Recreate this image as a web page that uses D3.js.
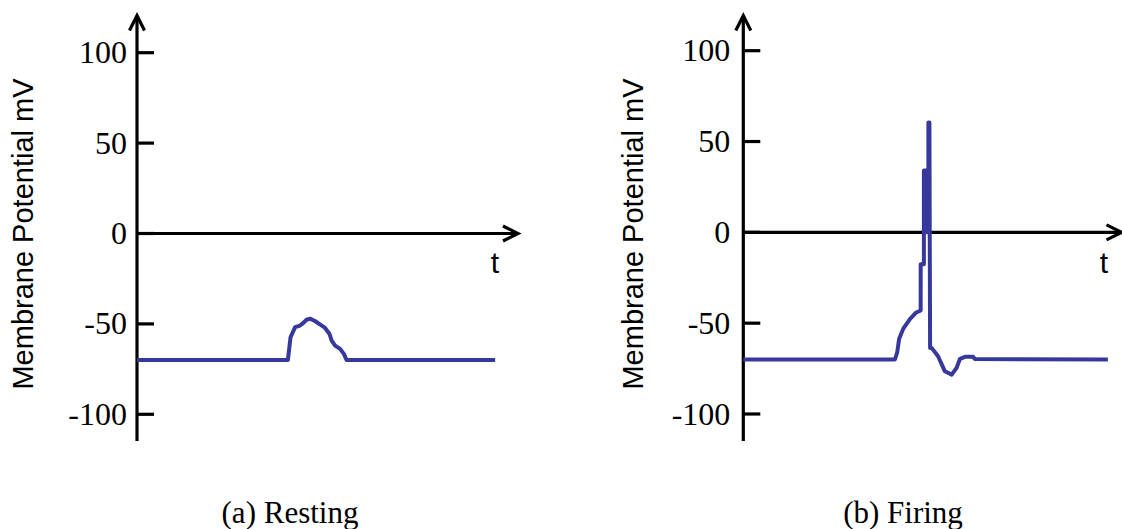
<!DOCTYPE html>
<html>
<head>
<meta charset="utf-8">
<script src="https://cdn.jsdelivr.net/npm/d3@7"></script>
<style>
  body { margin: 0; background: #fff; }
  svg { display: block; }
</style>
</head>
<body>
<svg id="chart" width="1122" height="529"></svg>
<script>
// y ticks (mV)
var yTicks = [100, 50, 0, -50, -100];

// (a) resting: time (arbitrary units, 0-100 along the t axis), potential mV
var restT = [0, 39.6, 40.3, 41.5, 42.8, 43.6, 44.5, 45.4, 46.7, 48.0, 49.3, 50.5, 51.1, 52.0, 53.3, 54.3, 55.0, 94.0];
var restV = [-70, -70, -57.4, -51.8, -50.9, -49.6, -47.7, -47.1, -48.4, -50.3, -52.1, -55.4, -59.2, -62, -63.8, -66.6, -70, -70];

// (b) firing
var fireT = [0, 40.1, 40.7, 41.2, 42.3, 44.1, 45.6, 46.9, 46.9, 47.75, 47.75, 48.55, 48.55, 48.94, 48.94, 49.21, 49.39, 49.8, 51.5, 53.3, 55.1, 56.4, 57.3, 58.6, 60.8, 61.2, 96.4];
var fireV = [-70, -70, -66, -58.7, -53, -47.6, -44.3, -43, -17.5, -17.5, 34, 34, 0, 0, 60.5, 60.5, -63.6, -63.6, -68.2, -76.5, -78.3, -74.6, -69.6, -68.5, -68.5, -69.7, -70];

var yTitle = 'Membrane Potential mV';
var captions = ['(a) Resting', '(b) Firing'];

var panels = [
    { t: restT, v: restV, ax: 137, axEnd: 518, yTop: 52.7, yBot: 414.3, gap: 10, titleX: 33, tX: 495, capX: 290 },
    { t: fireT, v: fireV, ax: 743.3, axEnd: 1121.5, yTop: 50.7, yBot: 414, gap: 13, titleX: 643, tX: 1104, capX: 903 }
];

var svg = d3.select('#chart');
var lineColor = '#36399b';

function arrow(g, x, y, dir) {
    // open chevron arrow head
    var L = 15, W = 7.5, pts;
    if (dir == 'up') pts = [[x - W, y + L], [x, y], [x + W, y + L]];
    else pts = [[x - L, y - W], [x, y], [x - L, y + W]];
    g.append('path')
        .attr('d', d3.line()(pts))
        .attr('fill', 'none')
        .attr('stroke', '#000')
        .attr('stroke-width', 3.2)
        .attr('stroke-linejoin', 'miter');
}

panels.forEach(function(p, i) {
    var x = d3.scaleLinear().domain([0, 100]).range([p.ax, p.axEnd]);
    var y = d3.scaleLinear().domain([-100, 100]).range([p.yBot, p.yTop]);
    var g = svg.append('g');

    // y axis line
    g.append('line')
        .attr('x1', p.ax).attr('x2', p.ax)
        .attr('y1', 441).attr('y2', 16)
        .attr('stroke', '#000').attr('stroke-width', 3.2);
    arrow(g, p.ax, 15.5, 'up');

    // ticks + labels
    var tk = g.selectAll('.tk').data(yTicks).enter().append('g').attr('class', 'tk');
    tk.append('line')
        .attr('x1', p.ax).attr('x2', p.ax + 17)
        .attr('y1', function(d) { return y(d); })
        .attr('y2', function(d) { return y(d); })
        .attr('stroke', '#000').attr('stroke-width', 3.2);
    tk.append('text')
        .attr('x', p.ax - p.gap)
        .attr('y', function(d) { return y(d); })
        .attr('dy', '0.33em')
        .attr('text-anchor', 'end')
        .attr('font-family', '"Liberation Serif", "Times New Roman", serif')
        .attr('font-size', 32)
        .text(function(d) { return d; });

    // t axis at 0 mV
    g.append('line')
        .attr('x1', p.ax).attr('x2', x(100) - 1)
        .attr('y1', y(0)).attr('y2', y(0))
        .attr('stroke', '#000').attr('stroke-width', 3.2);
    arrow(g, x(100), y(0), 'right');
    g.append('text')
        .attr('x', p.tX).attr('y', 273)
        .attr('text-anchor', 'middle')
        .attr('font-family', '"Liberation Sans", Arial, sans-serif')
        .attr('font-size', 30)
        .text('t');

    // axis title
    g.append('text')
        .attr('transform', 'translate(' + p.titleX + ',234) rotate(-90)')
        .attr('text-anchor', 'middle')
        .attr('font-family', '"Liberation Sans", Arial, sans-serif')
        .attr('font-size', 29)
        .text(yTitle);

    // trace
    var pts = p.t.map(function(d, k) { return [d, p.v[k]]; });
    var line = d3.line()
        .x(function(d) { return x(d[0]); })
        .y(function(d) { return y(d[1]); });
    g.append('path')
        .attr('d', line(pts))
        .attr('fill', 'none')
        .attr('stroke', lineColor)
        .attr('stroke-width', 4)
        .attr('stroke-linejoin', 'round');

    // caption
    g.append('text')
        .attr('x', p.capX).attr('y', 523)
        .attr('text-anchor', 'middle')
        .attr('font-family', '"Liberation Serif", "Times New Roman", serif')
        .attr('font-size', 31)
        .text(captions[i]);
});
</script>
</body>
</html>
